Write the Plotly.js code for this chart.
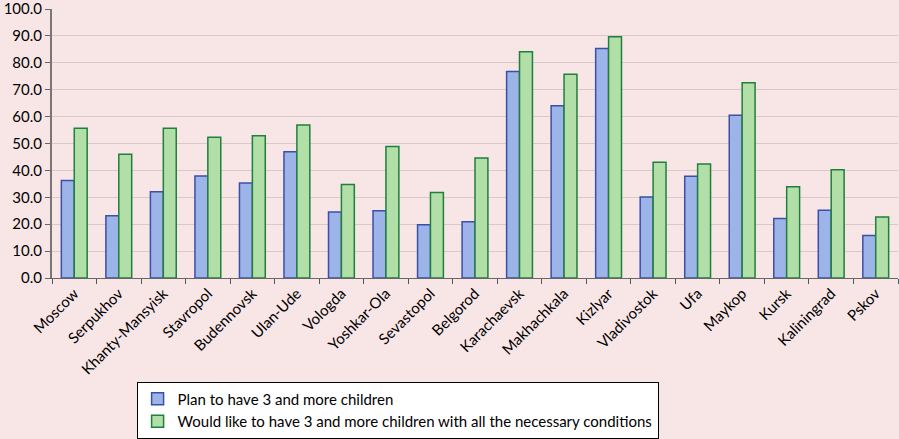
<!DOCTYPE html>
<html><head><meta charset="utf-8">
<script src="https://cdn.plot.ly/plotly-3.0.1.min.js"></script>
<style>html,body{margin:0;padding:0;background:#F8E6E7;}</style>
</head><body><div id="chart" style="width:899px;height:439px;"></div>
<script>
const cities = ["Moscow","Serpukhov","Khanty-Mansyisk","Stavropol","Budennovsk","Ulan-Ude","Vologda","Yoshkar-Ola","Sevastopol","Belgorod","Karachaevsk","Makhachkala","Kizlyar","Vladivostok","Ufa","Maykop","Kursk","Kaliningrad","Pskov"];
const planValues = [36.2,23.1,32.1,37.9,35.3,46.9,24.5,25.0,19.8,20.9,76.8,64.0,85.3,30.1,37.8,60.5,22.1,25.2,15.8];
const wouldLikeValues = [55.7,46.0,55.7,52.3,52.9,56.9,34.8,48.9,31.8,44.6,84.1,75.7,89.7,43.0,42.4,72.6,33.9,40.2,22.7];
const seriesNames = ["Plan to have 3 and more children","Would like to have 3 and more children with all the necessary conditions"];
const yTicks = [0,10,20,30,40,50,60,70,80,90,100];

const data = [
  {type:"bar", x:cities, y:planValues, name:seriesNames[0],
   marker:{color:"#9DB4E8", line:{color:"#3B4FA6", width:1.5}}},
  {type:"bar", x:cities, y:wouldLikeValues, name:seriesNames[1],
   marker:{color:"#B2DFA8", line:{color:"#1F7F3C", width:1.5}}}
];
const layout = {
  width:899, height:439,
  margin:{l:52, r:1, t:9, b:158},
  paper_bgcolor:"#F8E6E7", plot_bgcolor:"#F8E6E7",
  font:{family:"Lato, 'Open Sans', sans-serif", color:"#000"},
  barmode:"group", bargap:0.42, bargroupgap:0,
  xaxis:{tickangle:-45, tickfont:{size:15}, ticks:"outside", tickson:"boundaries", ticklen:5,
         tickcolor:"#555", showline:true, linecolor:"#666", linewidth:1, showgrid:false},
  yaxis:{range:[0,100], tickvals:yTicks, tickformat:".1f", tickfont:{size:15}, ticks:"outside", ticklen:5,
         ticklabeloverflow:"allow",
         tickcolor:"#666", showline:true, linecolor:"#777", linewidth:2, gridcolor:"#D9C9CA", gridwidth:1, zeroline:false},
  showlegend:true,
  legend:{x:0.1, xanchor:"left", y:-0.385, yanchor:"top", bgcolor:"#FFFFFF", bordercolor:"#000", borderwidth:1,
          font:{size:15}, tracegroupgap:0, itemwidth:30}
};
Plotly.newPlot("chart", data, layout, {displayModeBar:false});
</script></body></html>
